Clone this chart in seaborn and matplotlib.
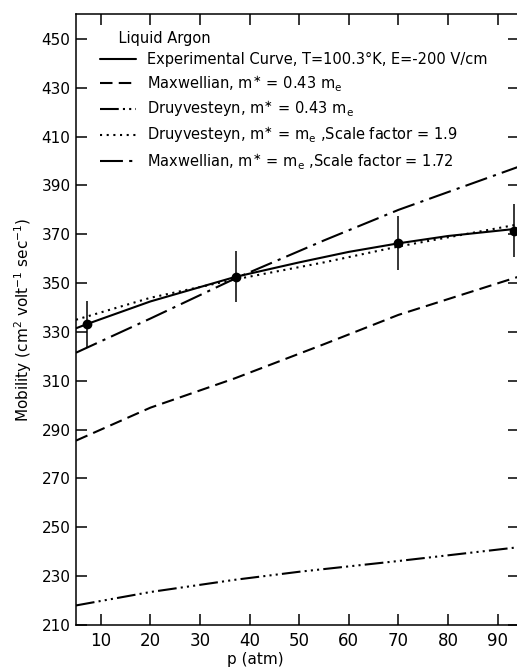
"""Electron mobility in liquid argon versus pressure, compared with model curves."""

import matplotlib

matplotlib.use("Agg")
import matplotlib.pyplot as plt
import pandas as pd
import seaborn as sns

# experimental points with error bars
exp_p = [7.3, 37.2, 70.0, 93.3]
exp_mu = [333.3, 352.6, 366.3, 371.5]
exp_err = [9.5, 10.5, 11.0, 11.0]

# smooth curves
curve_exp_p = [5, 7.3, 20, 37.2, 50, 60, 70, 80, 94]
curve_exp_mu = [331.5, 333.3, 342.5, 352.6, 358.5, 362.8, 366.3, 369.3, 372.3]

maxw_043_p = [5, 20, 37, 55, 70, 94]
maxw_043_mu = [285.5, 299.0, 311.0, 325.0, 337.0, 352.5]

druy_043_p = [5, 20, 37, 50, 70, 94]
druy_043_mu = [218.0, 223.5, 228.5, 231.8, 236.2, 241.8]

druy_me_p = [5, 20, 37, 55, 70, 94]
druy_me_mu = [335.0, 344.0, 351.5, 358.5, 365.0, 374.0]

maxw_me_p = [5, 20, 37.2, 55, 70, 94]
maxw_me_mu = [321.5, 335.5, 352.0, 367.5, 380.0, 397.5]

labels = [
    "Experimental Curve, T=100.3°K, E=-200 V/cm",
    r"Maxwellian, m$^{\ast}$ = 0.43 m$_\mathrm{e}$",
    r"Druyvesteyn, m$^{\ast}$ = 0.43 m$_\mathrm{e}$",
    r"Druyvesteyn, m$^{\ast}$ = m$_\mathrm{e}$ ,Scale factor = 1.9",
    r"Maxwellian, m$^{\ast}$ = m$_\mathrm{e}$ ,Scale factor = 1.72",
]
x_ticks = [10, 20, 30, 40, 50, 60, 70, 80, 90]
y_ticks = [210, 230, 250, 270, 290, 310, 330, 350, 370, 390, 410, 430, 450]

frames = []
for label, xs, ys in zip(
    labels,
    [curve_exp_p, maxw_043_p, druy_043_p, druy_me_p, maxw_me_p],
    [curve_exp_mu, maxw_043_mu, druy_043_mu, druy_me_mu, maxw_me_mu],
):
    frames.append(pd.DataFrame({"p": xs, "mobility": ys, "curve": label}))
curves = pd.concat(frames, ignore_index=True)

dash_styles = {
    labels[0]: "",
    labels[1]: (6, 3),
    labels[2]: (9, 2, 1, 2, 1, 2, 1, 2),
    labels[3]: (1, 2.2),
    labels[4]: (11, 3, 1.5, 3),
}

sns.set_theme(style="ticks")
plt.rcParams["font.family"] = ["DejaVu Sans"]
plt.rcParams["text.color"] = "black"
plt.rcParams["axes.labelcolor"] = "black"
plt.rcParams["mathtext.default"] = "regular"

fig = plt.figure(figsize=(5.17, 6.68), dpi=100)
ax = fig.add_axes([0.147, 0.0644, 0.856, 0.9146])

sns.lineplot(
    data=curves, x="p", y="mobility", style="curve", style_order=labels,
    dashes=dash_styles, color="black", linewidth=1.5, estimator=None,
    sort=False, legend=False, ax=ax,
)
ax.errorbar(exp_p, exp_mu, yerr=exp_err, fmt="o", color="black",
            markersize=6, elinewidth=1.1, capsize=0, zorder=5)

ax.set_xlim(5, 94.2)
ax.set_ylim(210, 460.2)
ax.set_xticks(x_ticks)
ax.set_yticks(y_ticks)
ax.tick_params(direction="in", length=8, width=1.1, top=True, right=True,
               labelsize=11, colors="black", pad=4)
ax.tick_params(axis="x", labelsize=12, pad=5)
for side in ["top", "bottom", "left", "right"]:
    ax.spines[side].set_linewidth(1.1)
    ax.spines[side].set_color("black")

ax.set_xlabel("p (atm)", fontsize=11)
ax.xaxis.set_label_coords(0.406, -0.045)
ax.set_ylabel(r"Mobility (cm$^2$ volt$^{-1}$ sec$^{-1}$)", fontsize=11, labelpad=5)

leg = ax.legend(
    handles=ax.lines[:5], labels=labels, title="    Liquid Argon",
    loc="upper left", bbox_to_anchor=(0.054, 0.972), frameon=False,
    fontsize=10.5, title_fontsize=10.5, alignment="left", handlelength=2.5,
    handletextpad=0.7, labelspacing=0.4, borderpad=0, borderaxespad=0,
)

fig.savefig("out.png", dpi=100)
